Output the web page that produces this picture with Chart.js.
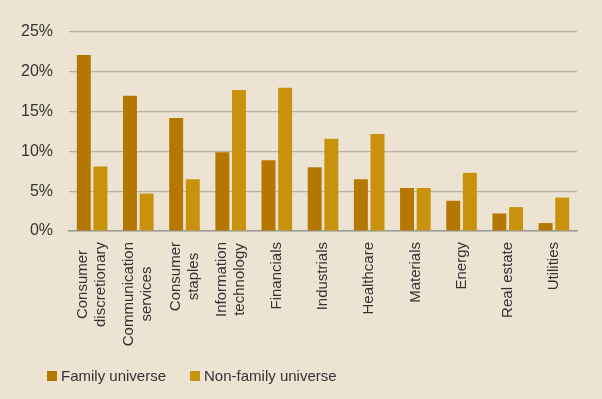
<!DOCTYPE html>
<html>
<head>
<meta charset="utf-8">
<script src="https://cdn.jsdelivr.net/npm/chart.js@4.4.1/dist/chart.umd.min.js"></script>
<style>
  html, body { margin: 0; padding: 0; background: #EDE3D3; }
  #wrap { width: 602px; height: 399px; }
</style>
</head>
<body>
<div id="wrap"><canvas id="chart" width="602" height="399"></canvas></div>
<script>
// sectors (multi-line labels)
const categories = [
  ["Consumer", "discretionary"],
  ["Communication", "services"],
  ["Consumer", "staples"],
  ["Information", "technology"],
  ["Financials"],
  ["Industrials"],
  ["Healthcare"],
  ["Materials"],
  ["Energy"],
  ["Real estate"],
  ["Utilities"]
];
const seriesNames = ["Family universe", "Non-family universe"];
const familyValues = [22.1, 17.0, 14.2, 9.9, 8.9, 8.0, 6.5, 5.4, 3.8, 2.2, 1.0];
const nonFamilyValues = [8.1, 4.7, 6.5, 17.7, 18.0, 11.6, 12.2, 5.4, 7.3, 3.0, 4.2];
const yTicks = [0, 5, 10, 15, 20, 25];

const colors = ["#B47800", "#C8920C"];
const FONT = '"Liberation Sans", Arial, sans-serif';

// x labels are drawn centred per line, and the legend sits further in than chart.js puts it
const extrasPlugin = {
  id: "extras",
  afterDraw(chart) {
    const ctx = chart.ctx;
    const xs = chart.scales.x;
    ctx.save();
    ctx.fillStyle = "#333333";
    ctx.font = "15px " + FONT;
    ctx.textAlign = "center";
    ctx.textBaseline = "middle";
    categories.forEach((lines, i) => {
      const px = xs.getPixelForTick(i);
      const w = Math.max(...lines.map(l => ctx.measureText(l).width));
      ctx.save();
      ctx.translate(px, xs.top + 11 + w / 2);
      ctx.rotate(-Math.PI / 2);
      lines.forEach((l, j) => ctx.fillText(l, 0, (j - (lines.length - 1) / 2) * 18));
      ctx.restore();
    });

    // legend
    let lx = 47;
    const ly = 376;
    ctx.textAlign = "left";
    chart.data.datasets.forEach(ds => {
      ctx.fillStyle = ds.backgroundColor;
      ctx.fillRect(lx, ly - 5, 10, 10);
      ctx.fillStyle = "#333333";
      ctx.fillText(ds.label, lx + 14, ly + 1);
      lx += 14 + ctx.measureText(ds.label).width + 24;
    });
    ctx.restore();
  }
};

new Chart(document.getElementById("chart"), {
  type: "bar",
  data: {
    labels: categories,
    datasets: [
      { label: seriesNames[0], data: familyValues, backgroundColor: colors[0] },
      { label: seriesNames[1], data: nonFamilyValues, backgroundColor: colors[1] }
    ]
  },
  options: {
    responsive: false,
    animation: false,
    devicePixelRatio: 1,
    categoryPercentage: 0.72,
    barPercentage: 0.84,
    layout: { padding: { top: 32, left: 5, right: 25, bottom: 0 } },
    plugins: {
      legend: { display: false },
      tooltip: { enabled: false }
    },
    scales: {
      x: {
        grid: { display: false },
        border: { display: true, color: "#9C9A96", width: 1.5 },
        ticks: { display: false },
        afterFit(scale) { scale.height = 168; }
      },
      y: {
        min: 0,
        max: 25,
        afterBuildTicks(scale) { scale.ticks = yTicks.map(v => ({ value: v })); },
        grid: { color: "#B8B0A4", lineWidth: 1.2, drawTicks: false },
        border: { display: false },
        ticks: {
          padding: 16,
          color: "#333333",
          font: { family: FONT, size: 16 },
          callback: v => v + "%"
        }
      }
    }
  },
  plugins: [extrasPlugin]
});
</script>
</body>
</html>
